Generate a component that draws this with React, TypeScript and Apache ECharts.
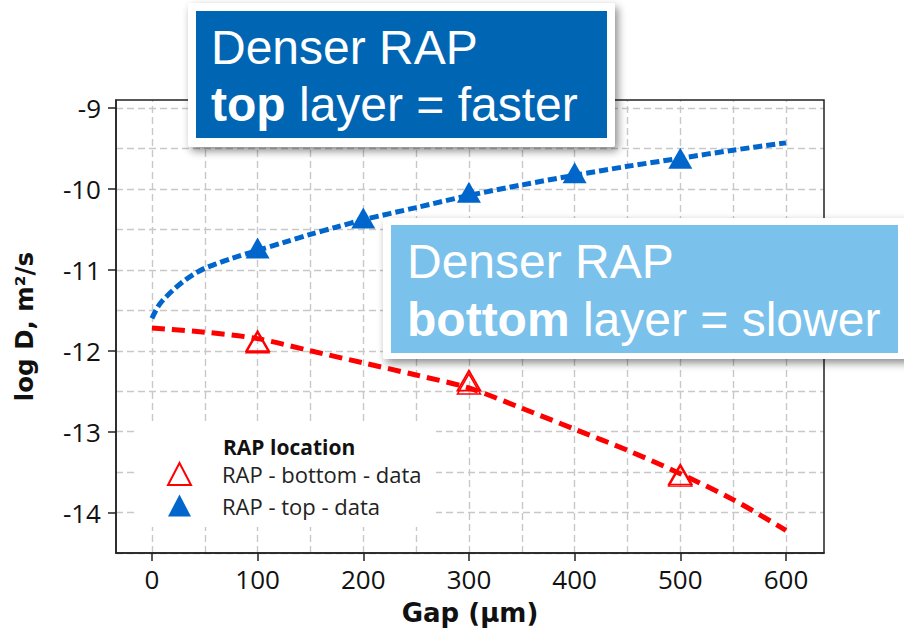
import React, { useEffect, useRef } from 'react';
import * as echarts from 'echarts';

// ---- data ----
const xTicks = [0, 100, 200, 300, 400, 500, 600];
const yTicks = [-14, -13, -12, -11, -10, -9];
const xGridValues = [0, 50, 100, 150, 200, 250, 300, 350, 400, 450, 500, 550, 600];
const yGridValues = [-14.5, -14, -13.5, -13, -12.5, -12, -11.5, -11, -10.5, -10, -9.5, -9];

const topFitGap = [0, 5, 10, 20, 30, 40, 50, 60, 75, 100, 125, 150, 175, 200, 250, 300, 350, 400, 450, 500, 550, 600];
const topFitLogD = [-11.6, -11.47, -11.38, -11.25, -11.14, -11.05, -10.98, -10.93, -10.86, -10.76, -10.66, -10.56, -10.47, -10.38, -10.23, -10.08, -9.95, -9.83, -9.72, -9.62, -9.52, -9.43];

const bottomFitGap = [0, 50, 100, 150, 200, 250, 300, 350, 400, 450, 500, 550, 600];
const bottomFitLogD = [-11.72, -11.77, -11.85, -12.0, -12.15, -12.3, -12.46, -12.71, -12.97, -13.23, -13.52, -13.84, -14.22];

const topGap = [100, 200, 300, 400, 500];
const topLogD = [-10.73, -10.36, -10.04, -9.8, -9.62];

const bottomGap = [100, 300, 500];
const bottomLogDA = [-11.88, -12.37, -13.53];
const bottomLogDB = [-11.9, -12.41, -13.55];

const BOTTOM_NAME = 'RAP - bottom - data';
const TOP_NAME = 'RAP - top - data';

const pairs = (xs: number[], ys: number[]) => xs.map((x, i) => [x, ys[i]]);

export default function App() {
  const ref = useRef<HTMLDivElement>(null);

  useEffect(() => {
    if (!ref.current) return;
    const chart = echarts.init(ref.current, null, { renderer: 'svg' });
    const labelFont = 'Open Sans';
    const titleBase = { fontFamily: 'DejaVu Sans', fontWeight: 'bold' as const, color: '#111' };
    const boxFont = 'Liberation Sans';
    const boxSize = 48;

    chart.setOption({
      animation: false,
      backgroundColor: '#fff',
      grid: { left: 116, top: 100, right: 80, bottom: 81, show: true, borderColor: '#222', borderWidth: 1.5, z: 7 },
      xAxis: {
        type: 'value', min: -34, max: 636, z: 7,
        axisLine: { show: true, onZero: false, lineStyle: { color: '#222', width: 1.5 } },
        axisTick: { show: true, length: 8, lineStyle: { color: '#222', width: 1.5 }, customValues: xTicks },
        axisLabel: { customValues: xTicks, fontFamily: labelFont, fontSize: 26, color: '#111', margin: 13 },
        splitLine: { show: false },
        name: 'Gap (μm)', nameLocation: 'middle', nameGap: 47, nameTextStyle: { ...titleBase, fontSize: 26 },
      },
      yAxis: {
        type: 'value', min: -14.5, max: -8.9, z: 7,
        axisLine: { show: true, onZero: false, lineStyle: { color: '#222', width: 1.5 } },
        axisTick: { show: true, length: 8, lineStyle: { color: '#222', width: 1.5 }, customValues: yTicks },
        axisLabel: { customValues: yTicks, fontFamily: labelFont, fontSize: 26, color: '#111', margin: 15, formatter: (v: number) => String(v) },
        splitLine: { show: false },
        name: 'log D, m²/s', nameLocation: 'middle', nameGap: 79, nameTextStyle: { ...titleBase, fontSize: 24.5 },
      },
      legend: {
        orient: 'vertical', left: 167, top: 462, padding: 0, itemWidth: 23, itemHeight: 22, itemGap: 8.5,
        selectedMode: false, z: 8,
        textStyle: { fontFamily: labelFont, fontSize: 22, color: '#222', padding: [0, 0, 0, 26] },
        data: [{ name: BOTTOM_NAME, icon: 'triangle' }, { name: TOP_NAME, icon: 'triangle' }],
      },
      series: [
        {
          name: 'grid', type: 'line', z: 1, silent: true, symbol: 'none',
          data: pairs(topFitGap, topFitLogD), lineStyle: { opacity: 0, width: 0 },
          markLine: {
            z: 1, silent: true, symbol: ['none', 'none'], label: { show: false },
            lineStyle: { color: '#c8c8c8', type: [7, 4], width: 1.4 },
            data: [
              ...xGridValues.map((v) => ({ xAxis: v })),
              ...yGridValues.map((v) => ({ yAxis: v })),
            ],
          },
        },
        {
          name: 'top fit', type: 'line', z: 4, symbol: 'none', smooth: 0.3, silent: true,
          data: pairs(topFitGap, topFitLogD),
          lineStyle: { color: '#0066CC', width: 5, type: [9, 4] },
        },
        {
          name: 'bottom fit', type: 'line', z: 4, symbol: 'none', smooth: 0.3, silent: true,
          data: pairs(bottomFitGap, bottomFitLogD),
          lineStyle: { color: '#FF0000', width: 5, type: [13, 7] },
        },
        {
          name: TOP_NAME, type: 'scatter', z: 6, symbol: 'triangle', symbolSize: [24, 21],
          data: pairs(topGap, topLogD),
          itemStyle: { color: '#0066CC', opacity: 1 },
        },
        {
          name: BOTTOM_NAME, type: 'scatter', z: 6, symbol: 'triangle', symbolSize: [23, 20],
          data: pairs(bottomGap, bottomLogDA),
          itemStyle: { color: 'rgba(255,255,255,0)', borderColor: '#FF0000', borderWidth: 1.8, opacity: 1 },
        },
        {
          name: BOTTOM_NAME, type: 'scatter', z: 6, symbol: 'triangle', symbolSize: [23, 20],
          data: pairs(bottomGap, bottomLogDB),
          itemStyle: { color: 'rgba(255,255,255,0)', borderColor: '#FF0000', borderWidth: 1.5, opacity: 1 },
        },
      ],
      graphic: [
        // legend background
        { type: 'rect', z: 2, silent: true, shape: { x: 138, y: 422, width: 298, height: 105 }, style: { fill: '#fff' } },
        {
          type: 'text', z: 10, x: 223, y: 447, silent: true,
          style: { text: 'RAP location', fontFamily: labelFont, fontWeight: 'bold', fontSize: 21, fill: '#111', verticalAlign: 'middle', textVerticalAlign: 'middle' },
        },
        // annotation box 1
        {
          type: 'rect', z: 10, silent: true, shape: { x: 188, y: 3, width: 427, height: 144, r: 3 },
          style: { fill: '#fff', shadowBlur: 8, shadowOffsetX: 3, shadowOffsetY: 4, shadowColor: 'rgba(0,0,0,0.45)' },
        },
        { type: 'rect', z: 11, silent: true, shape: { x: 196, y: 11, width: 411, height: 127 }, style: { fill: '#0066B3' } },
        {
          type: 'text', z: 12, x: 211, y: 47, silent: true,
          style: { text: 'Denser RAP', fontFamily: boxFont, fontSize: boxSize, fill: '#fff', verticalAlign: 'middle', textVerticalAlign: 'middle' },
        },
        {
          type: 'text', z: 12, x: 211, y: 104, silent: true,
          style: {
            text: '{b|top} layer = faster', fontFamily: boxFont, fontSize: boxSize, fill: '#fff',
            verticalAlign: 'middle', textVerticalAlign: 'middle',
            rich: { b: { fontFamily: boxFont, fontSize: boxSize, fontWeight: 'bold', fill: '#fff' } },
          },
        },
        // annotation box 2
        {
          type: 'rect', z: 10, silent: true, shape: { x: 383, y: 218, width: 530, height: 141, r: 3 },
          style: { fill: '#fff', shadowBlur: 8, shadowOffsetX: 3, shadowOffsetY: 4, shadowColor: 'rgba(0,0,0,0.45)' },
        },
        { type: 'rect', z: 11, silent: true, shape: { x: 391, y: 225, width: 507, height: 128 }, style: { fill: '#7AC1EB' } },
        {
          type: 'text', z: 12, x: 407, y: 261, silent: true,
          style: { text: 'Denser RAP', fontFamily: boxFont, fontSize: boxSize, fill: '#fff', verticalAlign: 'middle', textVerticalAlign: 'middle' },
        },
        {
          type: 'text', z: 12, x: 407, y: 319, silent: true,
          style: {
            text: '{b|bottom} layer = slower', fontFamily: boxFont, fontSize: boxSize, fill: '#fff',
            verticalAlign: 'middle', textVerticalAlign: 'middle',
            rich: { b: { fontFamily: boxFont, fontSize: boxSize, fontWeight: 'bold', fill: '#fff' } },
          },
        },
      ],
    });
    return () => chart.dispose();
  }, []);

  return <div ref={ref} style={{ position: 'fixed', left: 0, top: 0, width: 904, height: 634 }} />;
}
